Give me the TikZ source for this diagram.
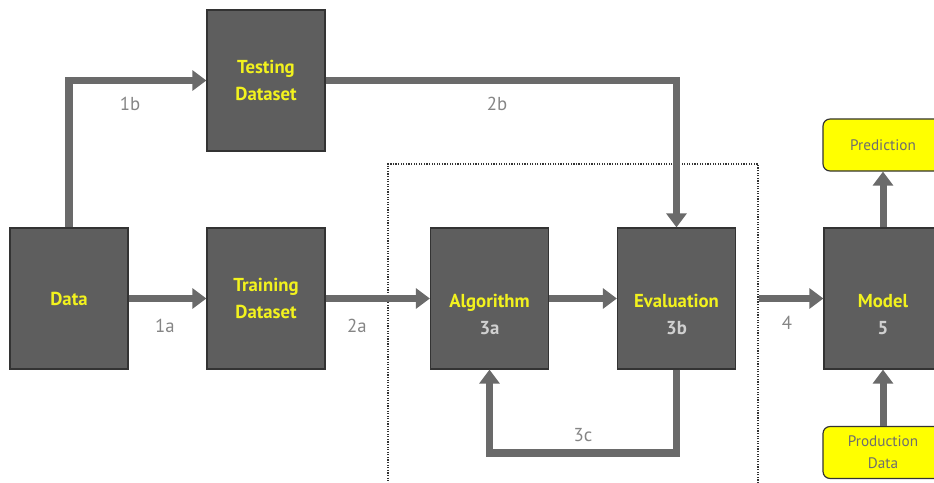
\documentclass[tikz,border=0pt]{standalone}
\usepackage{fontspec}
\setmainfont{PT Sans}
\usetikzlibrary{arrows.meta, positioning}
\definecolor{boxgray}{HTML}{5E5E5E}
\definecolor{boxline}{HTML}{333333}
\definecolor{flowgray}{HTML}{6A6A6A}
\definecolor{labelgray}{HTML}{858585}
\definecolor{padtext}{HTML}{6E6E6E}
\definecolor{numgray}{HTML}{D0D0D0}
\definecolor{boxyellow}{HTML}{F2F21E}
\definecolor{padyellow}{HTML}{FFFF00}
\tikzset{
  stage box/.style={
    draw=boxline,
    line width=1pt,
    fill=boxgray,
    minimum width=3.54cm,
    minimum height=4.23cm,
    align=center,
    text=boxyellow,
    font=\fontsize{16}{23}\selectfont\bfseries,
  },
  io box/.style={
    rounded corners=6pt,
    draw=boxline,
    line width=1pt,
    fill=padyellow,
    minimum width=3.6cm,
    minimum height=1.56cm,
    align=center,
    text=padtext,
    font=\fontsize{13}{19}\selectfont,
  },
  flow/.style={
    draw=flowgray,
    line width=6pt,
    -{Triangle[width=17pt,length=12pt]},
  },
  step label/.style={
    text=labelgray,
    font=\fontsize{16}{19}\selectfont,
  },
}
\begin{document}
\begin{tikzpicture}[x=0.03cm, y=-0.03cm]
      \useasboundingbox (0,0) rectangle (934,483);
      \clip (0,0) rectangle (934,483);

      \node[draw=black!80, line width=0.9pt, dash pattern=on 1pt off 1.2pt,
            minimum width=11.1cm, minimum height=10.38cm] (stage) at (573,337) {};

      \node[stage box] (data)  at (69,298.5)    {Data};
      \node[stage box] (train) at (266,298.5)   {Training\\Dataset};
      \node[stage box] (test)  at (266,80.5)    {Testing\\Dataset};
      \node[stage box] (alg)   at (489.5,298.5) {\strut\\Algorithm\\\textcolor{numgray}{3a}};
      \node[stage box] (eval)  at (676.5,298.5) {\strut\\Evaluation\\\textcolor{numgray}{3b}};
      \node[stage box] (model) at (883,298.5)   {\strut\\Model\\\textcolor{numgray}{5}};

      \node[io box] (pred) at (883,145)   {Prediction};
      \node[io box] (prod) at (883,452.5) {Production\\Data};

      \coordinate (loop) at (0,453);

      \draw[flow] (data)  -- (train);
      \draw[flow] (train) -- (alg);
      \draw[flow] (alg)   -- (eval);
      \draw[flow] (stage.east |- eval) -- (model);
      \draw[flow] (model) -- (pred);
      \draw[flow] (prod)  -- (model);

      \draw[flow] (data.north) |- (test.west);
      \draw[flow] (test.east) -| (eval.north);
      \draw[flow] (eval.south) -- (eval.south |- loop) -| (alg.south);

      \node[step label] at (165,326) {1a};
      \node[step label] at (130,104) {1b};
      \node[step label] at (357,326) {2a};
      \node[step label] at (497,104) {2b};
      \node[step label] at (583,435) {3c};
      \node[step label] at (787,323) {4};
    \end{tikzpicture}
\end{document}
